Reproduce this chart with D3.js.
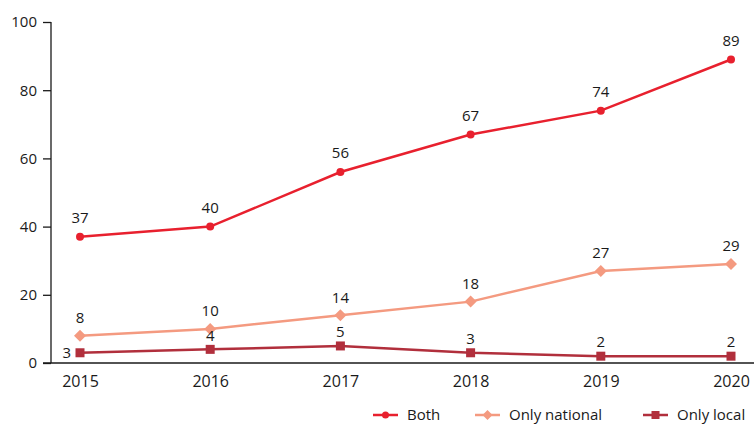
<!DOCTYPE html>
<html>
<head>
<meta charset="utf-8">
<script src="https://cdn.jsdelivr.net/npm/d3@7"></script>
<style>
  body { margin: 0; background: #fff; }
  text { font-family: "Open Sans", "DejaVu Sans", sans-serif; fill: #1a1a1a; }
</style>
</head>
<body>
<svg width="754" height="426"></svg>
<script>
// Data
var years = ["2015", "2016", "2017", "2018", "2019", "2020"];
var both = [37, 40, 56, 67, 74, 89];
var onlyNational = [8, 10, 14, 18, 27, 29];
var onlyLocal = [3, 4, 5, 3, 2, 2];
var yTicks = [0, 20, 40, 60, 80, 100];

var series = [
    {name: "Both", values: both, color: "#e8202e", shape: "circle", labelDy: -19},
    {name: "Only national", values: onlyNational, color: "#f49a80", shape: "diamond", labelDy: -18},
    {name: "Only local", values: onlyLocal, color: "#b12f3c", shape: "square", labelDy: -14}
];

var svg = d3.select("svg");

var xScale = d3.scalePoint().domain(years).range([80, 731]),
    yScale = d3.scaleLinear().domain([0, 100]).range([363, 22]);

// Axes
var yAxis = svg.append("g")
    .attr("transform", "translate(51,0)")
    .call(d3.axisLeft(yScale).tickValues(yTicks).tickSize(8).tickPadding(6));
yAxis.select(".domain").attr("d", "M0," + yScale(100) + "V" + yScale(0)).attr("stroke", "#1a1a1a").attr("stroke-width", 1.3);
yAxis.selectAll(".tick line").attr("stroke", "#1a1a1a").attr("stroke-width", 1.3);
yAxis.selectAll(".tick text").style("font-size", "15px");

var xAxis = svg.append("g")
    .attr("transform", "translate(0," + yScale(0) + ")")
    .call(d3.axisBottom(xScale).tickSize(0).tickPadding(10));
xAxis.select(".domain").attr("d", "M43,0H754").attr("stroke", "#1a1a1a").attr("stroke-width", 1.3);
xAxis.selectAll(".tick text").style("font-size", "16px").attr("dy", "0.9em");

// Marker shape
function marker(g, shape, color, x, y, big) {
    if (shape === "circle") {
        g.append("circle").attr("cx", x).attr("cy", y).attr("r", big ? 4 : 3.5).attr("fill", color);
    } else if (shape === "diamond") {
        var s = big ? 6 : 5;
        g.append("path").attr("d", "M" + x + "," + (y - s) + "L" + (x + s) + "," + y + "L" + x + "," + (y + s) + "L" + (x - s) + "," + y + "Z").attr("fill", color);
    } else {
        var h = big ? 4.5 : 4;
        g.append("rect").attr("x", x - h).attr("y", y - h).attr("width", 2 * h).attr("height", 2 * h).attr("fill", color);
    }
}

var line = d3.line()
    .x(function(d, i) { return xScale(years[i]); })
    .y(function(d) { return yScale(d); });

// Draw series, back to front
series.slice().reverse().forEach(function(s) {
    var g = svg.append("g");
    g.append("path")
        .attr("d", line(s.values))
        .attr("fill", "none")
        .attr("stroke", s.color)
        .attr("stroke-width", 2.5);
    s.values.forEach(function(v, i) {
        marker(g, s.shape, s.color, xScale(years[i]), yScale(v), true);
    });
});

// Value labels
series.forEach(function(s) {
    s.values.forEach(function(v, i) {
        var x = xScale(years[i]), y = yScale(v);
        var t = svg.append("text").text(v).style("font-size", "15px");
        if (s.name === "Only local" && i === 0) {
            t.attr("x", x - 9).attr("y", y).attr("dy", "0.35em").attr("text-anchor", "end");
        } else {
            t.attr("x", x).attr("y", y + s.labelDy).attr("dy", "0.35em").attr("text-anchor", "middle");
        }
    });
});

// Legend
var legendX = [373, 475, 643];
series.forEach(function(s, i) {
    var g = svg.append("g");
    var x0 = legendX[i], y0 = 415;
    g.append("line").attr("x1", x0).attr("x2", x0 + 25).attr("y1", y0).attr("y2", y0)
        .attr("stroke", s.color).attr("stroke-width", 2.5);
    marker(g, s.shape, s.color, x0 + 12.5, y0, false);
    g.append("text").attr("x", x0 + 34).attr("y", y0).attr("dy", "0.35em")
        .style("font-size", "15px").text(s.name);
});
</script>
</body>
</html>
